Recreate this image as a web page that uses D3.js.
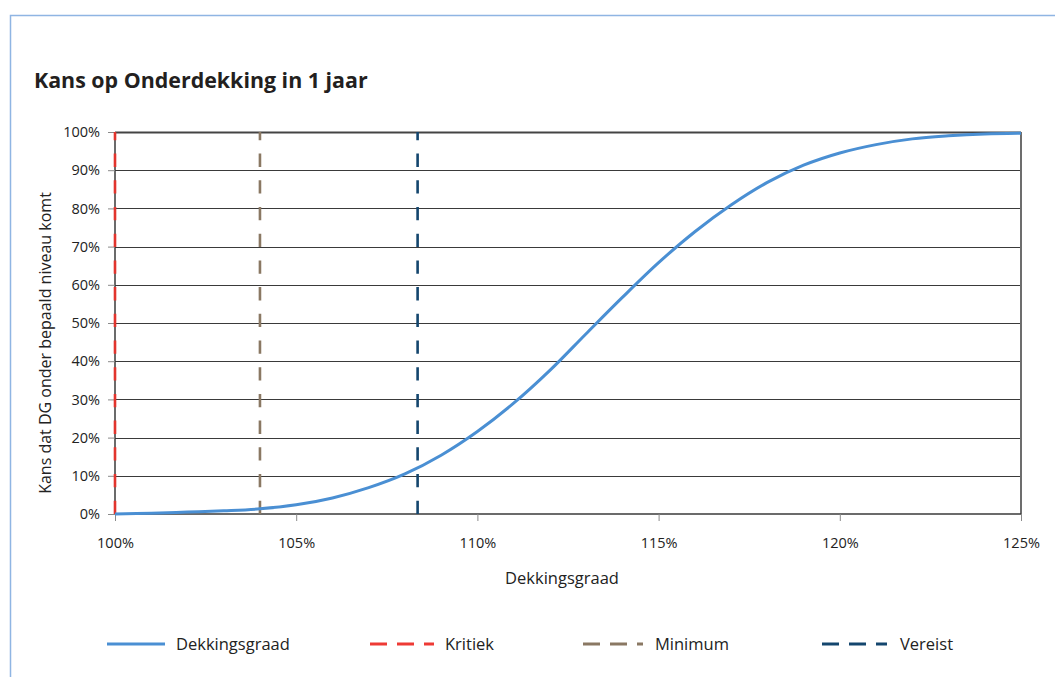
<!DOCTYPE html>
<html>
<head>
<meta charset="utf-8">
<script src="https://cdn.jsdelivr.net/npm/d3@7"></script>
<style>
  body { margin: 0; background: #fff; }
  svg { display: block; font-family: "Open Sans", "Noto Sans", sans-serif; }
  .tick text { fill: #222; }
</style>
</head>
<body>
<svg id="chart" width="1055" height="677"></svg>
<script>
// dekkingsgraad (%) and the chance (%) of falling below that level within 1 year
var dekkingsgraad = [100, 101, 102, 103, 104, 105, 106, 107, 108, 109, 110, 111, 112,
                     113, 114, 115, 116, 117, 118, 119, 120, 121, 122, 123, 124, 125];
var kans = [0, 0.2, 0.5, 0.85, 1.35, 2.4, 4.2, 6.9, 10.5, 15.4, 21.6, 29.0, 37.6,
            47.2, 56.7, 65.8, 73.9, 80.9, 86.8, 91.3, 94.5, 96.7, 98.2, 99.0, 99.5, 99.7];

// vertical reference levels
var niveauNamen = ["Kritiek", "Minimum", "Vereist"];
var niveauWaarden = [100, 104, 108.35];
var niveauKleuren = ["#e2342d", "#8a7863", "#14466e"];

var xTicks = [100, 105, 110, 115, 120, 125];
var yTicks = [0, 10, 20, 30, 40, 50, 60, 70, 80, 90, 100];

var svg = d3.select("#chart");
var pLeft = 115, pRight = 1021, pTop = 132, pBottom = 514;

var x = d3.scaleLinear().domain([100, 125]).range([pLeft, pRight]);
var y = d3.scaleLinear().domain([0, 100]).range([pBottom, pTop]);

// outer frame (runs off the page on right and bottom)
svg.append("path")
  .attr("d", "M10.5,700 V15.5 H1080")
  .attr("fill", "none")
  .attr("stroke", "#8fb5e3")
  .attr("stroke-width", 1.5);

svg.append("text")
  .attr("x", 34).attr("y", 88)
  .attr("font-size", 21.4).attr("font-weight", "bold")
  .attr("fill", "#231f20")
  .text("Kans op Onderdekking in 1 jaar");

// grid
svg.append("g").selectAll("line")
  .data(yTicks.slice(1))
  .join("line")
  .attr("x1", pLeft).attr("x2", pRight)
  .attr("y1", function (d) { return Math.round(y(d)) + 0.5; })
  .attr("y2", function (d) { return Math.round(y(d)) + 0.5; })
  .attr("stroke", function (d) { return d === 100 ? "#444" : "#3a3a3a"; })
  .attr("stroke-width", function (d) { return d === 100 ? 2 : 1.2; });

// right border
svg.append("line")
  .attr("x1", pRight).attr("x2", pRight).attr("y1", pTop).attr("y2", pBottom)
  .attr("stroke", "#6d6d6d").attr("stroke-width", 2);

// axes
var yAxis = d3.axisLeft(y).tickValues(yTicks)
  .tickFormat(function (d) { return d + "%"; })
  .tickSize(7).tickPadding(8);
var gy = svg.append("g").attr("transform", "translate(" + pLeft + ",0)").call(yAxis);

var xAxis = d3.axisBottom(x).tickValues(xTicks)
  .tickFormat(function (d) { return d + "%"; })
  .tickSize(7).tickPadding(17);
var gx = svg.append("g").attr("transform", "translate(0," + pBottom + ")").call(xAxis);

[gx, gy].forEach(function (g) {
  g.select(".domain").attr("stroke", "#3a3a3a").attr("stroke-width", 1.5);
  g.selectAll(".tick line").attr("stroke", "#8a8a8a");
  g.selectAll(".tick text").attr("font-size", 14.5).attr("font-family", "'Open Sans', sans-serif");
});
gx.select(".domain").attr("d", "M" + pLeft + ",0H" + pRight);
gy.select(".domain").attr("d", "M0," + pBottom + "V" + pTop);

svg.append("text")
  .attr("x", 562).attr("y", 584)
  .attr("text-anchor", "middle").attr("font-size", 16.5).attr("fill", "#222")
  .text("Dekkingsgraad");

svg.append("text")
  .attr("transform", "translate(51,343) rotate(-90)")
  .attr("text-anchor", "middle").attr("font-size", 16).attr("fill", "#222")
  .text("Kans dat DG onder bepaald niveau komt");

// reference levels, dashed from the bottom up
svg.append("g").selectAll("line")
  .data(niveauWaarden)
  .join("line")
  .attr("x1", function (d) { return x(d); })
  .attr("x2", function (d) { return x(d); })
  .attr("y1", pBottom).attr("y2", pTop)
  .attr("stroke", function (d, i) { return niveauKleuren[i]; })
  .attr("stroke-width", 2.6)
  .attr("stroke-dasharray", "13.3,13.4");

// curve
var pts = dekkingsgraad.map(function (d, i) { return [d, kans[i]]; });
var line = d3.line()
  .x(function (d) { return x(d[0]); })
  .y(function (d) { return y(d[1]); })
  .curve(d3.curveCatmullRom.alpha(0.5));

svg.append("path")
  .datum(pts)
  .attr("d", line)
  .attr("fill", "none")
  .attr("stroke", "#4a8fd3")
  .attr("stroke-width", 3);

// legend
var legNamen = ["Dekkingsgraad"].concat(niveauNamen);
var legKleuren = ["#4a8fd3"].concat(["#ee3a35", "#8a7863", "#14466e"]);
var legLijn = [[107, 165], [370, 434], [583, 643], [822, 887]];
var legTekstX = [176, 445, 655, 900];

var leg = svg.append("g").selectAll("g")
  .data(legNamen)
  .join("g");

leg.append("line")
  .attr("x1", function (d, i) { return legLijn[i][0]; })
  .attr("x2", function (d, i) { return legLijn[i][1]; })
  .attr("y1", 644).attr("y2", 644)
  .attr("stroke", function (d, i) { return legKleuren[i]; })
  .attr("stroke-width", 3)
  .attr("stroke-dasharray", function (d, i) { return i === 0 ? null : "17,10"; });

leg.append("text")
  .attr("x", function (d, i) { return legTekstX[i]; })
  .attr("y", 650)
  .attr("font-size", 16.5).attr("fill", "#222")
  .text(function (d) { return d; });
</script>
</body>
</html>
